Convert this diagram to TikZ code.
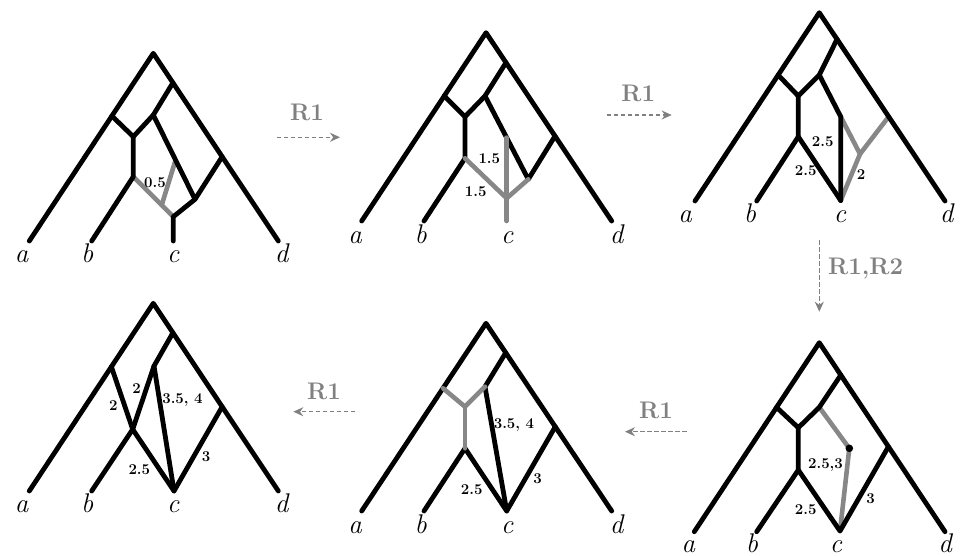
\documentclass[tikz,border=0pt]{standalone}
\usetikzlibrary{arrows.meta,calc}
\definecolor{eg}{RGB}{135,135,135}
\definecolor{tg}{RGB}{128,128,128}
\begin{document}
\begin{tikzpicture}[x=1pt,y=-1pt,
 blk/.style={line width=4.8pt,line cap=round,line join=round,black},
 gry/.style={line width=4.6pt,line cap=round,line join=round,eg},
 leaf/.style={font=\fontsize{27}{29}\selectfont\itshape, anchor=base, inner sep=0pt},
 wt/.style={font=\fontsize{15}{17}\selectfont\bfseries, inner sep=0pt},
 rulelab/.style={font=\fontsize{24}{26}\selectfont\bfseries, text=tg, inner sep=0pt},
 rarr/.style={tg, line width=1.5pt, dash pattern=on 4.5pt off 2.5pt, -{Stealth[length=10pt,width=9pt]}}]
\useasboundingbox (0,0) rectangle (966,556);

% ---------------- Tree 1 ----------------
\coordinate (t1r) at (153.3,53.3);
\coordinate (t1a) at (29.3,241);
\coordinate (t1d) at (278.3,241);
\coordinate (t1l) at ($(t1r)!0.334!(t1a)$);
\coordinate (t1p) at ($(t1r)!0.157!(t1d)$);
\coordinate (t1q) at ($(t1r)!0.551!(t1d)$);
\coordinate (t1i) at (153.3,115);
\coordinate (t1j) at (133.3,136.7);
\coordinate (t1k) at (133.3,176.7);
\coordinate (t1b) at (91.7,241);
\coordinate (t1m) at (195,199.3);
\coordinate (t1c) at (173.3,216.7);
\coordinate (t1e) at (173.3,241);
\coordinate (t1g) at ($(t1k)!0.71!(t1c)$);
\coordinate (t1h) at ($(t1i)!0.534!(t1m)$);
\draw[gry] (t1k) -- (t1c);
\draw[gry] (t1g) -- (t1h);
\draw[blk] (t1a) -- (t1r) -- (t1d);
\draw[blk] (t1l) -- (t1j) -- (t1i) -- (t1p);
\draw[blk] (t1j) -- (t1k) -- (t1b);
\draw[blk] (t1i) -- (t1m) -- (t1q);
\draw[blk] (t1m) -- (t1c) -- (t1e);
\node[wt] (t1w1) at (155,182.7) {0.5};
\node[leaf] (t1la) at (21.7,262.7) {a};
\node[leaf] (t1lb) at (87.3,262.7) {b};
\node[leaf] (t1lc) at (173.3,262.7) {c};
\node[leaf] (t1ld) at (281.7,262.7) {d};

% ---------------- Tree 2 ----------------
\coordinate (t2r) at (486,32.7);
\coordinate (t2a) at (361.7,221);
\coordinate (t2d) at (611.7,221);
\coordinate (t2l) at ($(t2r)!0.336!(t2a)$);
\coordinate (t2p) at ($(t2r)!0.159!(t2d)$);
\coordinate (t2q) at ($(t2r)!0.549!(t2d)$);
\coordinate (t2i) at (485,96);
\coordinate (t2j) at (465,116.7);
\coordinate (t2k) at (465,158.3);
\coordinate (t2b) at (424,221);
\coordinate (t2m) at (528.3,179.3);
\coordinate (t2h) at ($(t2i)!0.5!(t2m)$);
\coordinate (t2c) at (t2h |- 0,198.3);
\coordinate (t2e) at (t2h |- 0,221);
\draw[blk] (t2a) -- (t2r) -- (t2d);
\draw[blk] (t2l) -- (t2j) -- (t2i) -- (t2p);
\draw[blk] (t2j) -- (t2k) -- (t2b);
\draw[blk] (t2i) -- (t2m) -- (t2q);
\draw[gry] (t2k) -- (t2c) -- (t2m);
\draw[gry] (t2h) -- (t2c) -- (t2e);
\node[wt] (t2w1) at (489.3,158.3) {1.5};
\node[wt] (t2w2) at (475.7,191.7) {1.5};
\node[leaf] (t2la) at (355,243.3) {a};
\node[leaf] (t2lb) at (420.7,243.3) {b};
\node[leaf] (t2lc) at (507.3,243.3) {c};
\node[leaf] (t2ld) at (616.7,243.3) {d};

% ---------------- Tree 3 ----------------
\coordinate (t3r) at (819.3,12.7);
\coordinate (t3a) at (695,201);
\coordinate (t3d) at (945,201);
\coordinate (t3l) at ($(t3r)!0.331!(t3a)$);
\coordinate (t3p) at ($(t3r)!0.141!(t3d)$);
\coordinate (t3q) at ($(t3r)!0.552!(t3d)$);
\coordinate (t3i) at (819.3,75);
\coordinate (t3j) at (798.3,96);
\coordinate (t3k) at (798.3,136.7);
\coordinate (t3b) at (756.7,201);
\coordinate (t3c) at (840.7,200.5);
\coordinate (t3s) at (840.7,116.7);
\coordinate (t3u) at (860,154);
\draw[gry] (t3s) -- (t3u) -- (t3q);
\draw[gry] (t3u) -- (t3c);
\draw[blk] (t3a) -- (t3r) -- (t3d);
\draw[blk] (t3l) -- (t3j) -- (t3i) -- (t3p);
\draw[blk] (t3j) -- (t3k) -- (t3b);
\draw[blk] (t3k) -- (t3c);
\draw[blk] (t3i) -- (t3s) -- (t3c);
\node[wt] (t3w1) at (822.7,141.7) {2.5};
\node[wt] (t3w2) at (805.7,170.7) {2.5};
\node[wt] (t3w3) at (861,175) {2};
\node[leaf] (t3la) at (685,222.7) {a};
\node[leaf] (t3lb) at (750,222.7) {b};
\node[leaf] (t3lc) at (840,222.7) {c};
\node[leaf] (t3ld) at (946.7,222.7) {d};

% ---------------- Tree 4 (bottom left) ----------------
\coordinate (t4r) at (153.3,303.3);
\coordinate (t4a) at (29.3,491);
\coordinate (t4d) at (278.3,491);
\coordinate (t4l) at ($(t4r)!0.338!(t4a)$);
\coordinate (t4p) at ($(t4r)!0.157!(t4d)$);
\coordinate (t4q) at ($(t4r)!0.551!(t4d)$);
\coordinate (t4i) at (154,366);
\coordinate (t4k) at (132.7,429.3);
\coordinate (t4b) at (91.7,491);
\coordinate (t4c) at (174,491);
\draw[blk] (t4a) -- (t4r) -- (t4d);
\draw[blk] (t4p) -- (t4i) -- (t4k);
\draw[blk] (t4l) -- (t4k) -- (t4b);
\draw[blk] (t4k) -- (t4c) -- (t4q);
\draw[blk] (t4i) -- (t4c);
\node[wt] (t4w1) at (113.3,406) {2};
\node[wt] (t4w2) at (136.7,388.3) {2};
\node[wt] (t4w3) at (182.5,400.3) {3.5, 4};
\node[wt] (t4w4) at (139.3,470) {2.5};
\node[wt] (t4w5) at (206,456.7) {3};
\node[leaf] (t4la) at (21.7,512.7) {a};
\node[leaf] (t4lb) at (87.3,512.7) {b};
\node[leaf] (t4lc) at (173.3,512.7) {c};
\node[leaf] (t4ld) at (281.7,512.7) {d};

% ---------------- Tree 5 (bottom middle) ----------------
\coordinate (t5r) at (486,323.3);
\coordinate (t5a) at (361.7,511);
\coordinate (t5d) at (611.7,511);
\coordinate (t5l) at ($(t5r)!0.346!(t5a)$);
\coordinate (t5p) at ($(t5r)!0.157!(t5d)$);
\coordinate (t5q) at ($(t5r)!0.551!(t5d)$);
\coordinate (t5i) at (485,386.7);
\coordinate (t5j) at (465,406.7);
\coordinate (t5k) at (465,448.3);
\coordinate (t5b) at (424,511);
\coordinate (t5c) at (506.7,511);
\draw[blk] (t5a) -- (t5r) -- (t5d);
\draw[blk] (t5p) -- (t5i) -- (t5c);
\draw[blk] (t5b) -- (t5k) -- (t5c) -- (t5q);
\draw[gry] (t5l) -- (t5j) -- (t5i);
\draw[gry] (t5j) -- (t5k);
\node[wt] (t5w1) at (514,425) {3.5, 4};
\node[wt] (t5w2) at (471.7,490) {2.5};
\node[wt] (t5w3) at (537.7,478.3) {3};
\node[leaf] (t5la) at (355,533.3) {a};
\node[leaf] (t5lb) at (420.7,533.3) {b};
\node[leaf] (t5lc) at (507.3,533.3) {c};
\node[leaf] (t5ld) at (616.7,533.3) {d};

% ---------------- Tree 6 (bottom right) ----------------
\coordinate (t6r) at (819.3,342.7);
\coordinate (t6a) at (694.3,531.7);
\coordinate (t6d) at (945,531.7);
\coordinate (t6l) at ($(t6r)!0.342!(t6a)$);
\coordinate (t6p) at ($(t6r)!0.171!(t6d)$);
\coordinate (t6q) at ($(t6r)!0.550!(t6d)$);
\coordinate (t6i) at (819.3,407.3);
\coordinate (t6j) at (798.3,427.7);
\coordinate (t6k) at (798.3,470);
\coordinate (t6b) at (756.7,531.7);
\coordinate (t6c) at (840,531);
\coordinate (t6x) at (849.3,448.3);
\draw[gry] (t6i) -- (t6x) -- (t6c);
\draw[blk] (t6a) -- (t6r) -- (t6d);
\draw[blk] (t6l) -- (t6j) -- (t6i) -- (t6p);
\draw[blk] (t6j) -- (t6k) -- (t6b);
\draw[blk] (t6k) -- (t6c) -- (t6q);
\fill[black] (t6x) circle (3.8pt);
\node[wt] (t6w1) at (825.5,465) {2.5,3};
\node[wt] (t6w2) at (805.7,509.3) {2.5};
\node[wt] (t6w3) at (870.7,498.3) {3};
\node[leaf] (t6la) at (688.3,552) {a};
\node[leaf] (t6lb) at (752,552) {b};
\node[leaf] (t6lc) at (836,552) {c};
\node[leaf] (t6ld) at (945,552) {d};

% ---------------- Rule arrows ----------------
\coordinate (r1s) at (276.7,137.3);
\coordinate (r1e) at (340,137.3);
\draw[rarr] (r1s) -- (r1e);
\node[rulelab] (r1t) at (307,112) {R1};

\coordinate (r2s) at (606.7,115);
\coordinate (r2e) at (671.7,115);
\draw[rarr] (r2s) -- (r2e);
\node[rulelab] (r2t) at (638.3,93.3) {R1};

\coordinate (r3s) at (819.3,240);
\coordinate (r3e) at (819.3,311.7);
\draw[rarr] (r3s) -- (r3e);
\node[rulelab, anchor=west] (r3t) at (828,269) {R1,R2};

\coordinate (r4s) at (686.7,431.7);
\coordinate (r4e) at (625,431.7);
\draw[rarr] (r4s) -- (r4e);
\node[rulelab] (r4t) at (656,410.7) {R1};

\coordinate (r5s) at (355,411.7);
\coordinate (r5e) at (293.3,411.7);
\draw[rarr] (r5s) -- (r5e);
\node[rulelab] (r5t) at (324,391.7) {R1};
\end{tikzpicture}
\end{document}
